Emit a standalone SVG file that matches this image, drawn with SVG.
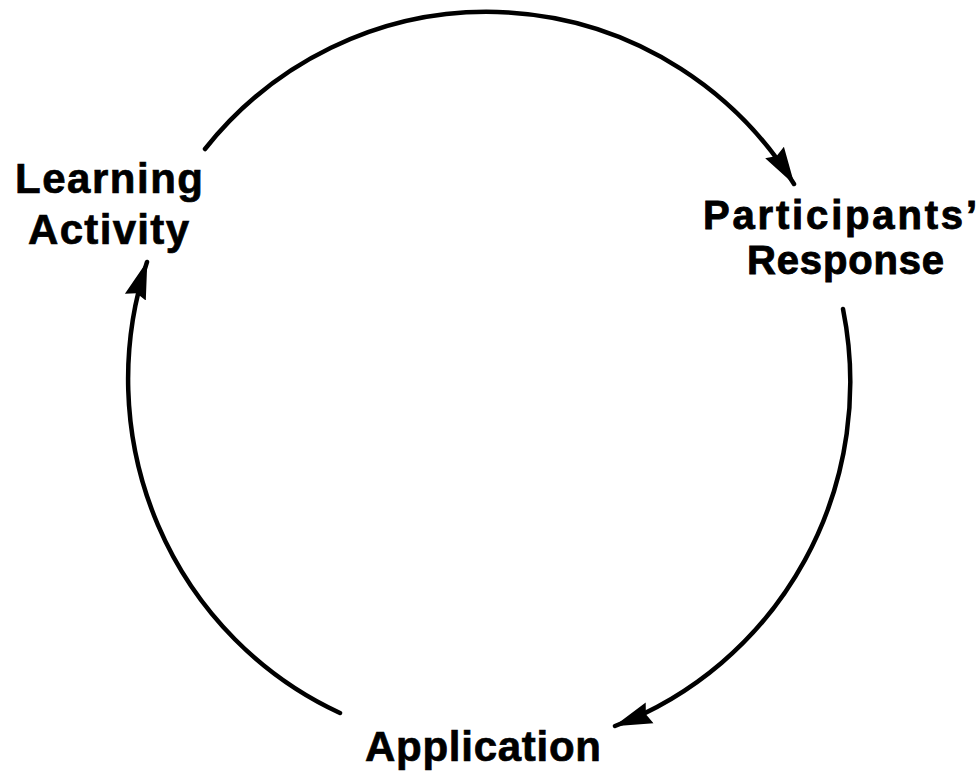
<svg xmlns="http://www.w3.org/2000/svg" width="978" height="776" viewBox="0 0 978 776">
  <style>
    .label { font-family: "Liberation Sans", Arial, sans-serif; font-size: 42px; font-weight: bold; fill: #000; stroke: #000; stroke-width: 0.7px; }
    .tight { font-size: 40px; stroke-width: 0.9px; }
    .flow { fill: none; stroke: #000; stroke-width: 4.5; stroke-linecap: round; marker-end: url(#head); }
  </style>
  <defs>
    <marker id="head" markerUnits="userSpaceOnUse" viewBox="0 -13 40 26" refX="37" refY="0" markerWidth="40" markerHeight="26" orient="auto">
      <path d="M0,-11 L38,0 L0,11 L4,0 Z" fill="#000"/>
    </marker>
  </defs>
  <rect width="978" height="776" fill="#fff"/>

  <!-- cycle arrows around the ring -->
  <g id="connectors">
    <path class="flow" d="M205,149 A362,367 0 0,1 794,184"/>
    <path class="flow" d="M843,309 A362,367 0 0,1 615,726"/>
    <path class="flow" d="M340,713 A362,367 0 0,1 147,262"/>
  </g>

  <g id="learning-activity">
    <text class="label" x="15" y="193" textLength="188" lengthAdjust="spacing">Learning</text>
    <text class="label" x="28" y="244" textLength="161" lengthAdjust="spacing">Activity</text>
  </g>

  <g id="participants-response">
    <text class="label tight" x="703" y="229" textLength="274" lengthAdjust="spacing">Participants’</text>
    <text class="label tight" x="747" y="274" textLength="197" lengthAdjust="spacing">Response</text>
  </g>

  <g id="application">
    <text class="label" x="365" y="761" textLength="236" lengthAdjust="spacing">Application</text>
  </g>
</svg>
